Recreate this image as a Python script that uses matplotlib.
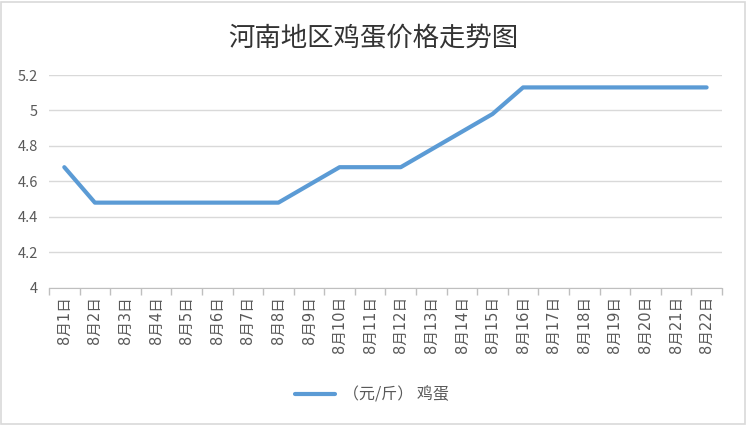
import matplotlib.pyplot as plt
from matplotlib.patches import Rectangle

plt.rcParams['font.family'] = ['Noto Sans CJK SC', 'DejaVu Sans']

# data
dates = [f"8月{d}日" for d in range(1, 23)]
prices = [4.68, 4.48, 4.48, 4.48, 4.48, 4.48, 4.48, 4.48, 4.58, 4.68, 4.68,
          4.68, 4.78, 4.88, 4.98, 5.13, 5.13, 5.13, 5.13, 5.13, 5.13, 5.13]
yticks = [4, 4.2, 4.4, 4.6, 4.8, 5, 5.2]
ytick_labels = ["4", "4.2", "4.4", "4.6", "4.8", "5", "5.2"]
series_name = "（元/斤） 鸡蛋"
title = "河南地区鸡蛋价格走势图"

fig = plt.figure(figsize=(7.46, 4.25), dpi=100)
fig.patches.append(Rectangle((0.002, 0.002), 0.996, 0.994, transform=fig.transFigure,
                             fill=False, edgecolor='#D9D9D9', linewidth=1.2))
ax = fig.add_axes([0.0657, 0.323, 0.902, 0.5005])

x = list(range(len(dates)))
line, = ax.plot(x, prices, color='#5B9BD5', linewidth=3.0, solid_capstyle='round',
                solid_joinstyle='round', label=series_name)

ax.set_xlim(-0.5, len(dates) - 0.5)
ax.set_ylim(4, 5.2)
ax.set_yticks(yticks)
ax.set_yticklabels(ytick_labels)
ax.yaxis.grid(True, color='#D9D9D9', linewidth=1)
ax.set_axisbelow(True)

ax.set_xticks(x)
ax.set_xticklabels(dates, rotation=90, va='top',
                   family=['DejaVu Sans', 'Noto Sans CJK SC'])
ax.set_xticks([i - 0.5 for i in range(len(dates) + 1)], minor=True)
ax.tick_params(axis='x', which='major', length=0, pad=6, labelsize=10.5, labelcolor='#595959')
ax.tick_params(axis='x', which='minor', length=5, color='#BFBFBF', width=1)
ax.tick_params(axis='y', length=0, pad=8, labelsize=10.5, labelcolor='#595959')

for s in ['top', 'right', 'left']:
    ax.spines[s].set_visible(False)
ax.spines['bottom'].set_color('#BFBFBF')

fig.text(0.5, 0.91, title, ha='center', va='center', fontsize=19, color='#333333')

fig.legend(handles=[line], loc='center', bbox_to_anchor=(0.499, 0.07), frameon=False,
           fontsize=11.5, labelcolor='#595959', handlelength=2.5, handletextpad=0.5)

fig.savefig('out.png', dpi=100)
